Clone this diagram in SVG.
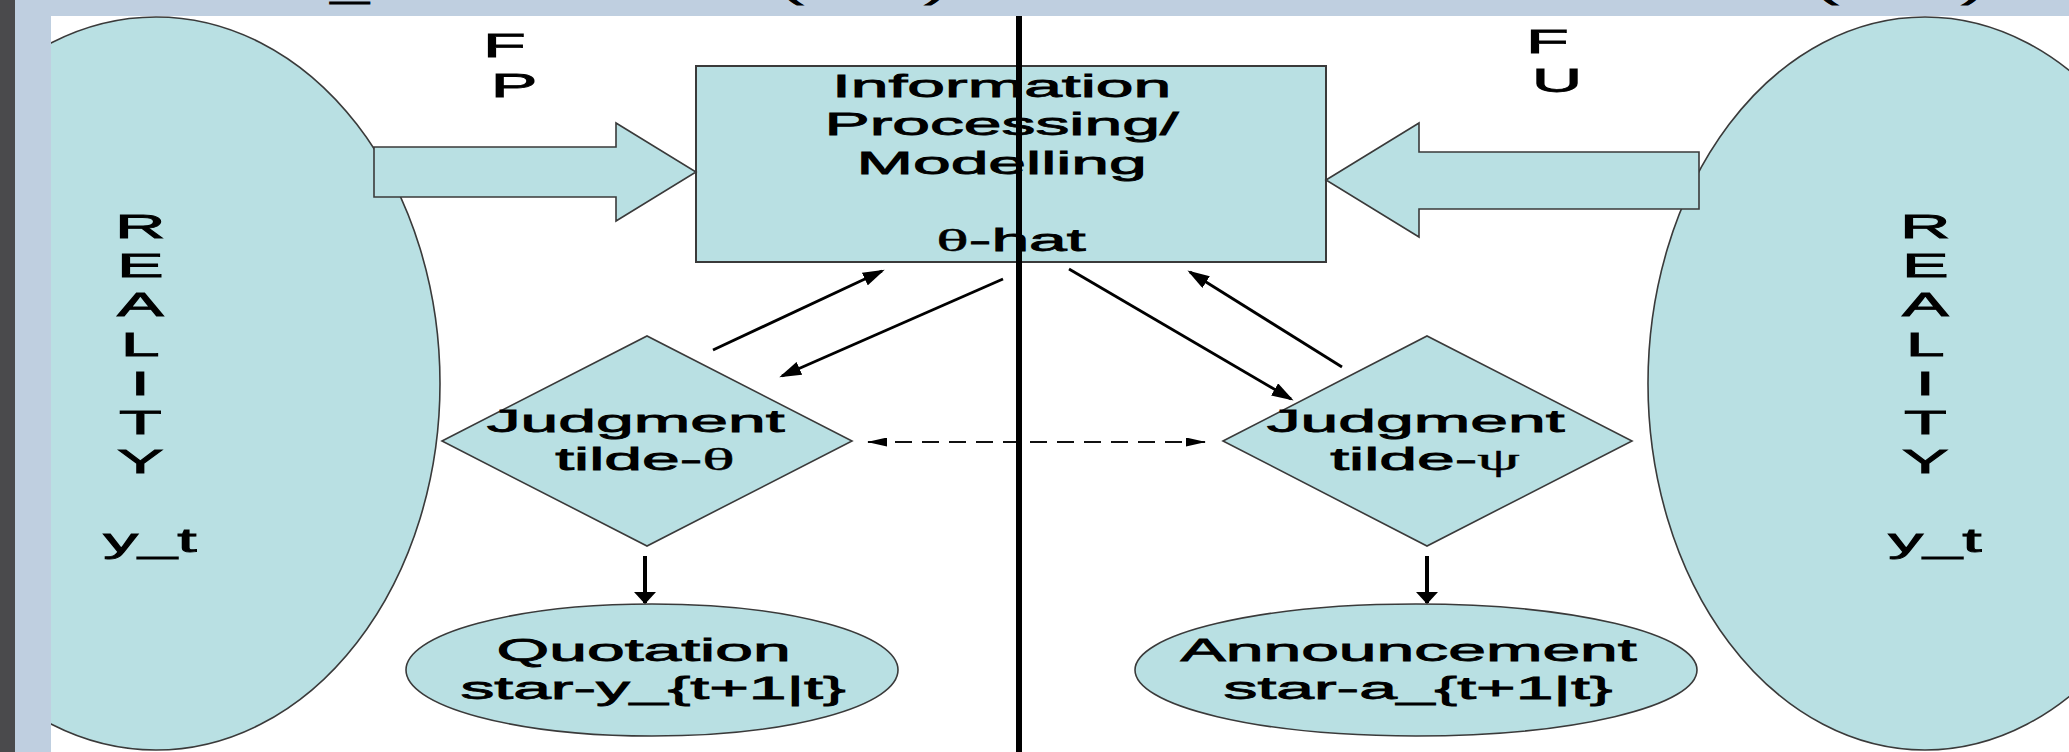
<svg xmlns="http://www.w3.org/2000/svg" width="2069" height="752" viewBox="0 0 2069 752">
  <defs>
    <style>
      .shape { fill: #B9E0E3; stroke: #3a3a3a; stroke-width: 1.6; }
      .box { stroke-width: 2; }
      .txt { font-family: "Liberation Sans", Arial, sans-serif; font-size: 32px; fill: #000; stroke: #000; stroke-width: 0.8;
             text-anchor: middle; transform-box: fill-box; transform-origin: 50% 50%; transform: scaleX(2.12); }
      .big { font-size: 33px; }
      .greek { font-family: "Liberation Serif", "Times New Roman", serif; stroke-width: 0.4; }
      .link { stroke: #000; stroke-width: 2.8; fill: none; marker-end: url(#ah); }
      .drop { stroke: #000; stroke-width: 4; fill: none; marker-end: url(#ahv); }
      .dash { stroke: #111; stroke-width: 2; stroke-dasharray: 17 10; fill: none; marker-start: url(#ahs); marker-end: url(#ahs); }
      .frame { fill: #BFCFE0; }
      .edge { fill: #4A4A4C; }
      .divider { stroke: #000; stroke-width: 6; }
    </style>
    <marker id="ah" markerUnits="userSpaceOnUse" viewBox="0 0 22 14" markerWidth="22" markerHeight="14" refX="19" refY="7" orient="auto">
      <path d="M0,0 L22,7 L0,14 z" fill="#000"/>
    </marker>
    <marker id="ahv" markerUnits="userSpaceOnUse" viewBox="0 0 12 22" markerWidth="12" markerHeight="22" refX="11" refY="11" orient="auto">
      <path d="M0,0 L12,11 L0,22 z" fill="#000"/>
    </marker>
    <marker id="ahs" markerUnits="userSpaceOnUse" viewBox="0 0 20 9" markerWidth="20" markerHeight="9" refX="19" refY="4.5" orient="auto-start-reverse">
      <path d="M0,0 L20,4.5 L0,9 z" fill="#000"/>
    </marker>
  </defs>

  <!-- page -->
  <rect x="0" y="0" width="2069" height="752" fill="#FFFFFF"/>

  <!-- nodes -->
  <g id="reality-left">
    <ellipse class="shape" cx="156" cy="383.5" rx="284" ry="366.5" stroke-width="2"/>
    <text class="txt big" x="150" y="238">
      <tspan x="150">R</tspan>
      <tspan x="150" dy="39.25">E</tspan>
      <tspan x="150" dy="39.25">A</tspan>
      <tspan x="150" dy="39.25">L</tspan>
      <tspan x="150" dy="39.25">I</tspan>
      <tspan x="150" dy="39.25">T</tspan>
      <tspan x="150" dy="39.25">Y</tspan>
      <tspan x="150" dy="78.5">y_t</tspan>
    </text>
  </g>

  <g id="reality-right">
    <ellipse class="shape" cx="1925" cy="383.5" rx="277" ry="366.5" stroke-width="2"/>
    <text class="txt big" x="1935" y="238">
      <tspan x="1935">R</tspan>
      <tspan x="1935" dy="39.25">E</tspan>
      <tspan x="1935" dy="39.25">A</tspan>
      <tspan x="1935" dy="39.25">L</tspan>
      <tspan x="1935" dy="39.25">I</tspan>
      <tspan x="1935" dy="39.25">T</tspan>
      <tspan x="1935" dy="39.25">Y</tspan>
      <tspan x="1935" dy="78.5">y_t</tspan>
    </text>
  </g>

  <g id="processing">
    <rect class="shape box" x="696" y="66" width="630" height="196"/>
    <text class="txt" x="1011" y="97">
      <tspan x="1011">Information</tspan>
      <tspan x="1011" dy="38.4">Processing/</tspan>
      <tspan x="1011" dy="38.4">Modelling</tspan>
      <tspan x="1011" dy="76.8"><tspan class="greek">θ</tspan>-hat</tspan>
    </text>
  </g>

  <g id="judgment-theta">
    <polygon class="shape" points="442,441 647,336 852,441 647,546"/>
    <text class="txt" x="645" y="432">
      <tspan x="645">Judgment</tspan>
      <tspan x="645" dy="38">tilde-<tspan class="greek">θ</tspan></tspan>
    </text>
  </g>

  <g id="judgment-psi">
    <polygon class="shape" points="1223,441 1427,336 1632,441 1427,546"/>
    <text class="txt" x="1425" y="432">
      <tspan x="1425">Judgment</tspan>
      <tspan x="1425" dy="38">tilde-<tspan class="greek">ψ</tspan></tspan>
    </text>
  </g>

  <g id="quotation">
    <ellipse class="shape" cx="652" cy="670" rx="246" ry="66"/>
    <text class="txt" x="653" y="661">
      <tspan x="653">Quotation</tspan>
      <tspan x="653" dy="38.4">star-y_{t+1|t}</tspan>
    </text>
  </g>

  <g id="announcement">
    <ellipse class="shape" cx="1416" cy="670" rx="281" ry="66"/>
    <text class="txt" x="1418" y="661">
      <tspan x="1418">Announcement</tspan>
      <tspan x="1418" dy="38.4">star-a_{t+1|t}</tspan>
    </text>
  </g>

  <!-- connectors -->
  <g id="connectors">
    <g id="flow-fp">
      <polygon class="shape" points="374,147 616,147 616,123 696,172 616,221 616,197 374,197"/>
      <text class="txt big" x="514" y="57">
        <tspan x="514">F</tspan>
        <tspan x="514" dy="40">P</tspan>
      </text>
    </g>
    <g id="flow-fu">
      <polygon class="shape" points="1326,180 1419,123 1419,152 1699,152 1699,209 1419,209 1419,237"/>
      <text class="txt big" x="1557" y="53">
        <tspan x="1557">F</tspan>
        <tspan x="1557" dy="39">U</tspan>
      </text>
    </g>
    <line class="link" x1="713" y1="350" x2="882" y2="271"/>
    <line class="link" x1="1003" y1="279" x2="782" y2="376"/>
    <line class="link" x1="1069" y1="269" x2="1291" y2="399"/>
    <line class="link" x1="1342" y1="367" x2="1190" y2="272"/>
    <line class="drop" x1="645" y1="556" x2="645" y2="603"/>
    <line class="drop" x1="1427" y1="556" x2="1427" y2="603"/>
    <line class="dash" x1="868" y1="442" x2="1205" y2="442"/>
  </g>

  <!-- divider between the two sides -->
  <line class="divider" x1="1019" y1="16" x2="1019" y2="752"/>

  <!-- slide frame, with the foot of the title line showing in its top band -->
  <g id="frame">
    <rect class="frame" x="0" y="0" width="2069" height="16"/>
    <rect class="frame" x="0" y="0" width="51" height="752"/>
    <rect class="edge" x="0" y="0" width="15" height="752"/>
    <text class="txt" x="350" y="-2">_</text>
    <text class="txt" x="792" y="-2">(</text>
    <text class="txt" x="936" y="-2">)</text>
    <text class="txt" x="1827" y="-2">(</text>
    <text class="txt" x="1973" y="-2">)</text>
  </g>
</svg>
